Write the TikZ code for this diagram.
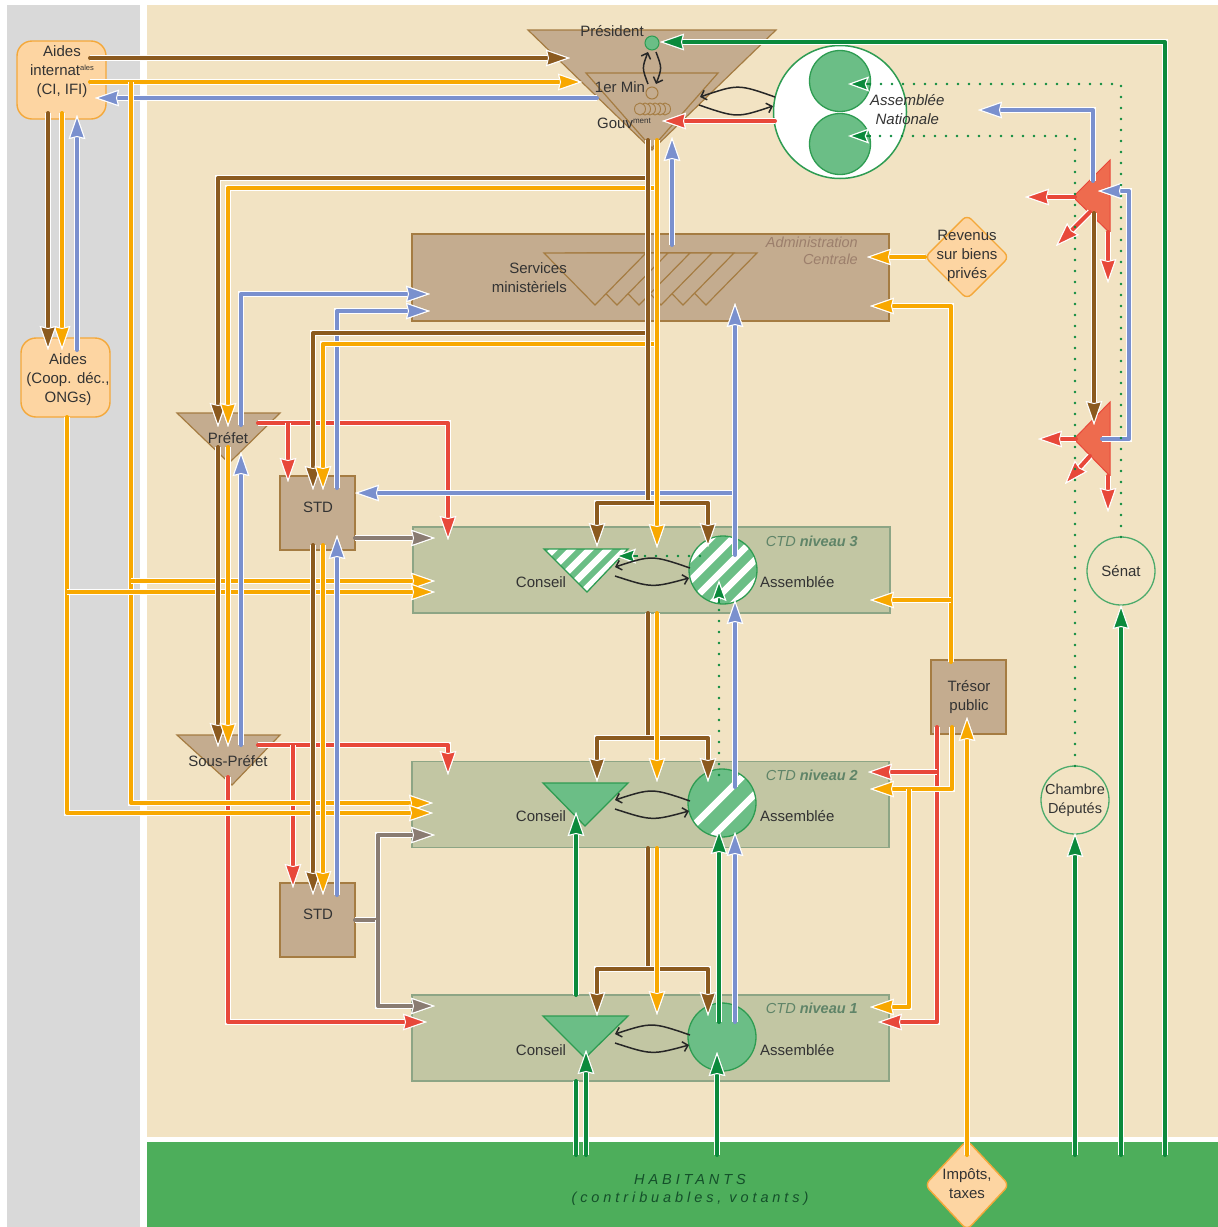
\documentclass[tikz,border=0pt]{standalone}
\usepackage{fontspec}
\setmainfont{Liberation Sans}
\usetikzlibrary{arrows.meta}
\definecolor{cbeige}{HTML}{F2E3C3}
\definecolor{cgray}{HTML}{D9D9D9}
\definecolor{cband}{HTML}{4DAE5B}
\definecolor{ctan}{HTML}{C4AC8F}
\definecolor{ctanb}{HTML}{A57C42}
\definecolor{cctd}{HTML}{C2C6A3}
\definecolor{cctdb}{HTML}{8DA585}
\definecolor{clg}{HTML}{6BBE86}
\definecolor{clgb}{HTML}{2E9C52}
\definecolor{cdg}{HTML}{0B8A3C}
\definecolor{cbrown}{HTML}{8B5A1F}
\definecolor{corange}{HTML}{F8A800}
\definecolor{cblue}{HTML}{7A90CE}
\definecolor{cred}{HTML}{E8483A}
\definecolor{cgrayarr}{HTML}{8A7C72}
\definecolor{cpeach}{HTML}{FDD5A2}
\definecolor{cpeachb}{HTML}{F4A83A}
\definecolor{credtri}{HTML}{EE6B4E}
\definecolor{ctext}{HTML}{333333}
\definecolor{cctdtxt}{HTML}{5F8468}
\definecolor{cadmtxt}{HTML}{9C7F6C}
\definecolor{chab}{HTML}{14502A}
\begin{document}
\begin{tikzpicture}[x=1pt,y=-1pt,
  every node/.style={inner sep=0pt, text=ctext},
  lbl/.style={font=\fontsize{15}{19}\selectfont, align=center},
  ln/.style={line width=4pt, line cap=round, line join=round, preaction={draw=white, line width=6.6pt}},
  tipc/.style={-{Stealth[length=24pt,width=16.5pt,inset=2pt,color=white,fill=#1,line width=1pt]}},
  brn/.style={ln, draw=cbrown, tipc=cbrown},
  org/.style={ln, draw=corange, tipc=corange},
  blu/.style={ln, draw=cblue, tipc=cblue},
  rd/.style={ln, draw=cred, tipc=cred},
  gry/.style={ln, draw=cgrayarr, tipc=cgrayarr},
  grn/.style={ln, draw=cdg, tipc=cdg},
  blk/.style={draw=black!85, line width=1.5pt, -{Straight Barb[length=5pt,width=10pt]}},
  dotg/.style={draw=cdg, line width=2.6pt, line cap=round, dash pattern=on 0pt off 11pt},
  gtip/.style={draw=cdg, line width=2.6pt, -{Stealth[length=21pt,width=15pt,inset=3pt,color=white,fill=cdg,line width=1.2pt]}},
  tanshape/.style={fill=ctan, draw=ctanb, line width=1.2pt},
  tanbox/.style={rectangle, fill=ctan, draw=ctanb, line width=1.2pt},
  ctdbox/.style={rectangle, fill=cctd, draw=cctdb, line width=1.2pt, minimum width=477pt, minimum height=86pt},
  peach/.style={fill=cpeach, draw=cpeachb, line width=1.4pt},
  peachbox/.style={rectangle, rounded corners=15pt, fill=cpeach, draw=cpeachb, line width=1.4pt},
  gshape/.style={fill=clg, draw=clgb, line width=1.3pt},
  ctdlbl/.style={text=cctdtxt, anchor=east, font=\fontsize{14.5}{17}\selectfont\itshape},
  stripe/.style={white, line width=6.5pt},
]
% ---------- backgrounds
\fill[white] (0,0) rectangle (1218,1227);
\fill[cgray] (7,5) rectangle (140,1227);
\fill[cbeige] (147,5) rectangle (1218,1137);
\fill[cband] (147,1142) rectangle (1218,1227);
\useasboundingbox (0,0) rectangle (1218,1227);

% ---------- boxes
\node[tanbox, minimum width=477pt, minimum height=87pt] (admin) at (650.5,277.5) {};
\node[ctdbox] (ctd3) at (651.5,570) {};
\node[ctdbox] (ctd2) at (650.5,804.5) {};
\node[ctdbox] (ctd1) at (650.5,1038) {};
\node[tanbox, minimum width=75pt, minimum height=74pt] (std1) at (317.5,513) {};
\node[tanbox, minimum width=75pt, minimum height=74pt] (std2) at (317.5,920) {};
\node[tanbox, minimum width=75pt, minimum height=74pt] (tresor) at (968.5,697) {};
\node[peachbox, minimum width=89pt, minimum height=78pt] (aint) at (61.5,80) {};
\node[peachbox, minimum width=89pt, minimum height=79pt] (acoop) at (65.5,377.5) {};
\draw[peach, rounded corners=6pt] (925,257) -- (967,215) -- (1009,257) -- (967,299) -- cycle;
\coordinate (rev) at (967,257);
\draw[peach, rounded corners=6pt] (925,1185) -- (967,1140) -- (1009,1185) -- (967,1230) -- cycle;
\coordinate (imp) at (967,1185);
\node[circle, draw=clgb!85, line width=1.3pt, minimum size=68pt] (senat) at (1121,571) {};
\node[circle, draw=clgb!85, line width=1.3pt, minimum size=68pt] (chambre) at (1075,800) {};

% ---------- government
\draw[tanshape] (528,30) -- (776,30) -- (652,150) -- cycle;
\draw[tanshape] (586,73) -- (718,73) -- (652,148) -- cycle;
\node[circle, fill=clg, draw=clgb, line width=1pt, minimum size=14pt] (pres) at (652,43) {};
\node[circle, draw=ctanb, line width=1pt, minimum size=12pt] (pm) at (652,93) {};
\foreach \cx in {665,660,655,650,645,640}
  \draw[fill=ctan, draw=ctanb, line width=0.9pt] (\cx,109) ellipse [x radius=5.5, y radius=6];
\coordinate (gouv) at (652,109);

% ---------- services ministeriels fan
\foreach \ax in {706,683,661,639,617,595}
  \draw[tanshape] ({\ax-51},253) -- ({\ax+51},253) -- (\ax,305) -- cycle;
\coordinate (serv) at (650,270);

% ---------- prefet, sous-prefet
\draw[tanshape] (177,413) -- (280,413) -- (229,463) -- cycle;
\coordinate (pref) at (229,430);
\draw[tanshape] (177,735) -- (280,735) -- (232,785) -- cycle;
\coordinate (spref) at (230,752);

% ---------- assemblee nationale
\node[circle, fill=white, draw=clgb, line width=1.5pt, minimum size=133pt] (an) at (840,112) {};
\node[circle, gshape, minimum size=61pt] (an1) at (840,81) {};
\node[circle, gshape, minimum size=61pt] (an2) at (840,144) {};

% ---------- red triangles
\draw[fill=credtri, draw=cred, line width=1pt] (1073,197) -- (1110,160) -- (1110,233) -- cycle;
\coordinate (rt1) at (1097,197);
\draw[fill=credtri, draw=cred, line width=1pt] (1074,439) -- (1110,402) -- (1110,476) -- cycle;
\coordinate (rt2) at (1098,439);

% ---------- CTD 3 shapes (hatched)
\begin{scope}
  \clip (544,549) -- (628,549) -- (587,592) -- cycle;
  \fill[clg] (540,545) rectangle (632,596);
  \foreach \d in {-72,-54,...,72} \draw[stripe] ({587+\d-60},630) -- ({587+\d+60},510);
\end{scope}
\draw[clgb, line width=1.3pt] (544,549) -- (628,549) -- (587,592) -- cycle;
\coordinate (cons3) at (587,562);
\node[circle, fill=clg, minimum size=68pt] (asm3) at (723,570) {};
\begin{scope}
  \clip (723,570) circle [radius=34];
  \foreach \d in {-66,-44,...,66} \draw[stripe] ({723+\d-60},630) -- ({723+\d+60},510);
\end{scope}
\draw[clgb, line width=1.3pt] (723,570) circle [radius=34];

% ---------- CTD 2 shapes
\draw[gshape] (543,783) -- (628,783) -- (585,826) -- cycle;
\coordinate (cons2) at (585,796);
\node[circle, fill=clg, minimum size=68pt] (asm2) at (722,803) {};
\begin{scope}
  \clip (722,803) circle [radius=34];
  \foreach \d in {-6,24} \draw[stripe] ({722+\d-60},863) -- ({722+\d+60},743);
\end{scope}
\draw[clgb, line width=1.3pt] (722,803) circle [radius=34];

% ---------- CTD 1 shapes
\draw[gshape] (543,1016) -- (628,1016) -- (585,1058) -- cycle;
\coordinate (cons1) at (585,1029);
\node[circle, gshape, minimum size=68pt] (asm1) at (722,1037) {};

% ================= CONNECTORS
% red
\draw[rd] (775,121) -- (662,121);
\draw[rd] (258,423) -- (448,423) -- (448,540);
\draw[rd] (288,423) -- (288,482);
\draw[rd] (258,745) -- (448,745) -- (448,775);
\draw[rd] (293,745) -- (293,888);
\draw[rd] (228,777) -- (228,1022) -- (427,1022);
\draw[rd] (937,727) -- (937,1022) -- (878,1022);
\draw[rd] (937,772) -- (868,772);
\draw[rd] (1075,197) -- (1025,197);
\draw[rd] (1090,212) -- (1056,246);
\draw[rd] (1108,232) -- (1108,283);
\draw[rd] (1076,439) -- (1038,439);
\draw[rd] (1090,456) -- (1065,484);
\draw[rd] (1108,476) -- (1108,512);

% gray
\draw[gry] (355,538) -- (435,538);
\draw[gry] (355,920) -- (378,920) -- (378,835) -- (435,835);
\draw[gry] (378,920) -- (378,1006) -- (435,1006);

% blue
\draw[blu] (597,98) -- (95,98);
\draw[blu] (77,350) -- (77,115);
\draw[blu] (672,245) -- (672,137);
\draw[blu] (735,493) -- (355,493);
\draw[blu] (735,555) -- (735,303);
\draw[blu] (735,787) -- (735,600);
\draw[blu] (735,1022) -- (735,832);
\draw[blu] (1102,439) -- (1129,439) -- (1129,191) -- (1098,191);
\draw[blu] (1093,181) -- (1093,110) -- (978,110);

% orange from aides
\draw[org] (90,82) -- (582,82);
\draw[org] (131,82) -- (131,803) -- (433,803);
\draw[org] (131,581) -- (435,581);
\draw[org] (62,113) -- (62,350);
\draw[org] (67,417) -- (67,813) -- (433,813);
\draw[org] (67,592) -- (435,592);

% brown from aides
\draw[brn] (90,58) -- (570,58);
\draw[brn] (48,113) -- (48,350);

% hierarchy blue
\draw[blu] (241,425) -- (241,294) -- (430,294);
\draw[blu] (241,745) -- (241,452);
\draw[blu] (337,488) -- (337,311) -- (430,311);
\draw[blu] (337,895) -- (337,535);

% hierarchy brown / orange
\draw[brn] (648,178) -- (218,178) -- (218,427);
\draw[org] (657,188) -- (228,188) -- (228,427);
\draw[brn] (648,333) -- (313,333) -- (313,490);
\draw[org] (657,344) -- (323,344) -- (323,490);
\draw[brn] (218,447) -- (218,747);
\draw[org] (228,447) -- (228,747);
\draw[brn] (313,545) -- (313,895);
\draw[org] (323,545) -- (323,895);

\draw[brn,-] (648,140) -- (648,503);
\draw[brn] (648,503) -| (597,547);
\draw[brn] (648,503) -| (708,547);
\draw[org] (657,140) -- (657,548);
\draw[brn,-] (648,613) -- (648,738);
\draw[brn] (648,738) -| (597,782);
\draw[brn] (648,738) -| (708,782);
\draw[org] (657,613) -- (657,782);
\draw[brn,-] (648,848) -- (648,969);
\draw[brn] (648,969) -| (597,1016);
\draw[brn] (648,969) -| (708,1016);
\draw[org] (657,848) -- (657,1015);

% right side orange
\draw[org] (925,257) -- (867,257);
\draw[org] (951,662) -- (951,306) -- (870,306);
\draw[org] (951,600) -- (870,600);
\draw[org] (952,727) -- (952,789) -- (870,789);
\draw[org] (909,789) -- (909,1007) -- (870,1007);
\draw[org] (967,1155) -- (967,717);

% brown red triangles
\draw[brn] (1094,213) -- (1094,425);

% green
\draw[grn] (1165,1155) -- (1165,42) -- (660,42);
\draw[grn] (1121,1155) -- (1121,605);
\draw[grn] (1075,1155) -- (1075,833);
\draw[grn] (717,1155) -- (717,1052);
\draw[grn] (586,1155) -- (586,1050);
\draw[grn,-] (576,1155) -- (576,1081);
\draw[grn] (576,995) -- (576,812);
\draw[grn] (719,1022) -- (719,830);

% dotted
\draw[dotg] (1121,537) -- (1121,84) -- (868,84);
\draw[gtip] (871,84) -- (848,84);
\draw[dotg] (1075,766) -- (1075,136) -- (868,136);
\draw[gtip] (871,136) -- (848,136);
\draw[dotg] (700,556) -- (634,556);
\draw[gtip] (638,556) -- (615,556);
\draw[dotg] (719,775) -- (719,600);
\draw[gtip] (719,603) -- (719,580);

% black
\draw[blk] (648,84) .. controls (642,68) .. (648,52);
\draw[blk] (656,52) .. controls (662,68) .. (656,84);
\draw[blk] (775,97) .. controls (738,84) .. (700,97);
\draw[blk] (699,105) .. controls (737,118) .. (773,106);
\foreach \dy in {0,233,467} {
  \draw[blk] (690,{568+\dy}) .. controls (652,{555+\dy}) .. (615,{567+\dy});
  \draw[blk] (615,{576+\dy}) .. controls (652,{588+\dy}) .. (689,{578+\dy});
}

% ================= TEXT
\node[lbl] (tpres) at (612,31) {Président};
\node[lbl] (tpm) at (620,87) {1er Min};
\node[lbl, anchor=west] (tgouv) at (597,123) {Gouv\raisebox{5pt}{\fontsize{8}{8}\selectfont ment}};
\node[lbl, anchor=west, font=\fontsize{15}{19}\selectfont\itshape] (tan) at (870,110) {Assemblée\\Nationale};
\node[lbl, align=right, anchor=east] (tserv) at (567,278) {Services\\ministèriels};
\node[lbl, align=right, anchor=north east, text=cadmtxt, font=\fontsize{14.5}{17}\selectfont\itshape] (tadm) at (858,237) {Administration\\Centrale};
\node[lbl] (trev) at (967,256) {Revenus\\sur biens\\privés};
\node[lbl] (taint) at (62,72) {Aides\\internat\raisebox{5pt}{\fontsize{7.5}{8}\selectfont ales}\\(CI, IFI)};
\node[lbl] (tacoop) at (68,380) {Aides\\(Coop. déc.,\\ONGs)};
\node[lbl] (tpref) at (228,438) {Préfet};
\node[lbl] (tspref) at (228,761) {Sous-Préfet};
\node[lbl] (tstd1) at (318,507) {STD};
\node[lbl] (tstd2) at (318,914) {STD};
\node[lbl] (ttres) at (969,697) {Trésor\\public};
\node[lbl] (tsenat) at (1121,571) {Sénat};
\node[lbl, font=\fontsize{14.5}{19}\selectfont] (tcham) at (1075,800) {Chambre\\Députés};
\node[lbl] (timp) at (967,1184) {Impôts,\\taxes};
\foreach \n/\yy in {3/582,2/816,1/1050} {
  \node[lbl] (tcons\n) at (541,\yy) {Conseil};
  \node[lbl, anchor=west] (tasm\n) at (760,\yy) {Assemblée};
}
\node[ctdlbl] (tctd3) at (858,541) {CTD \bfseries niveau 3};
\node[ctdlbl] (tctd2) at (858,775) {CTD \bfseries niveau 2};
\node[ctdlbl] (tctd1) at (858,1008) {CTD \bfseries niveau 1};
\node[text=chab, font=\fontsize{14.5}{18}\selectfont\itshape\addfontfeature{LetterSpace=27}, align=center] (thab) at (690,1190) {HABITANTS\\(contribuables, votants)};
\end{tikzpicture}
\end{document}
